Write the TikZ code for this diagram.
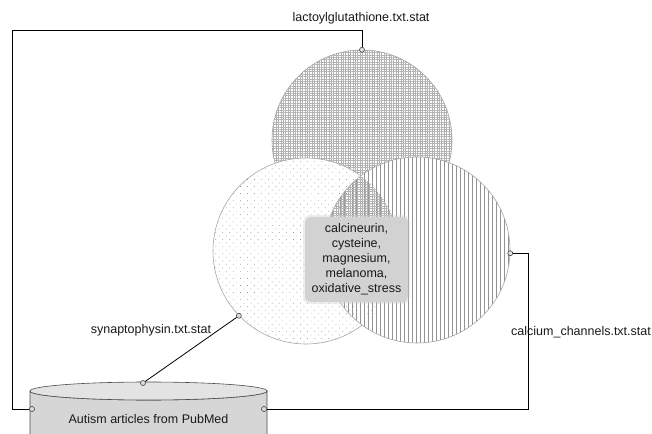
\documentclass[tikz,border=0pt]{standalone}
\usepackage{fontspec}
\setmainfont{Liberation Sans}
\usetikzlibrary{patterns.meta}
\begin{document}
\begin{tikzpicture}[x=1bp,y=-1bp,
  every node/.style={font=\fontsize{12.5bp}{15bp}\selectfont, text=black!90},
  setbase/.style={circle, inner sep=0pt, draw=gray!70, line width=0.6bp, preaction={fill=white}},
  meshfill/.style={pattern={Hatch[distance=2.4bp, angle=0, line width=0.45bp]}, pattern color=gray!60},
  dotfill/.style={pattern={Dots[distance=5bp, angle=45, radius=0.5bp]}, pattern color=gray!80},
  linefill/.style={pattern={Lines[distance=4bp, angle=90, line width=0.6bp]}, pattern color=gray!85},
  port/.style={circle, inner sep=0pt, minimum size=5bp, draw=black!75, fill=gray!25, line width=0.6bp},
  conn/.style={draw=black, line width=0.8bp},
  label/.style={inner sep=0pt},
  summary/.style={fill=gray!35, rounded corners=5bp, align=center, minimum width=103bp, minimum height=85bp, inner sep=0pt,
    preaction={draw=gray!35, line width=4bp, draw opacity=0.35, rounded corners=6bp}},
  dbbody/.style={draw=black!70, line width=0.6bp, fill=gray!32},
  dbtop/.style={draw=black!70, line width=0.6bp, fill=gray!22}]
\useasboundingbox (0,0) rectangle (652,434);
\clip (0,0) rectangle (652,434);
\fill[white] (0,0) rectangle (652,434);

% the three sets
\node[setbase, meshfill, minimum size=180bp] (T) at (362,140) {};
\node[setbase, dotfill, minimum size=186bp] (L) at (306,251) {};
\node[setbase, linefill, minimum size=186bp] (R) at (417,250) {};

% overlaps keep the patterns of every set they belong to
\begin{scope}
  \clip (L.center) circle[radius=93];
  \fill[dotfill] (R.center) circle[radius=93];
  \clip (R.center) circle[radius=93];
  \fill[meshfill] (T.center) circle[radius=90];
\end{scope}

% common elements of all three sets
\node[summary] (mid) at (356.5,259.5) {calcineurin,\\cysteine,\\magnesium,\\melanoma,\\oxidative\_stress};

% database cylinder
\path[dbbody] (30,391) -- (30,440) -- (267,440) -- (267,391)
  arc[start angle=0, end angle=180, x radius=118.5, y radius=9] -- cycle;
\path[dbtop] (148.5,391) ellipse[x radius=118.5, y radius=9];
\node (db) at (148.5,419) {Autism articles from PubMed};

% labels
\node[label] (lt) at (361,18) {lactoylglutathione.txt.stat};
\node[label] (ll) at (151,330) {synaptophysin.txt.stat};
\node[label, anchor=west] (lr) at (511,332) {calcium\_channels.txt.stat};

% connection ports
\node[port] (pT) at (T.90) {};
\node[port] (pL) at (L.224) {};
\node[port] (pR) at (R.358) {};
\node[port] (pDT) at (143,383) {};
\node[port] (pDL) at (32,409) {};
\node[port] (pDR) at (264,409) {};

% connectors
\coordinate (cTL) at (12,30);
\coordinate (cBR) at (528,409);
\draw[conn] (pT) |- (cTL) |- (pDL);
\draw[conn] (pDR) -- (cBR) |- (pR);
\draw[conn] (pL) -- (pDT);
\end{tikzpicture}
\end{document}
